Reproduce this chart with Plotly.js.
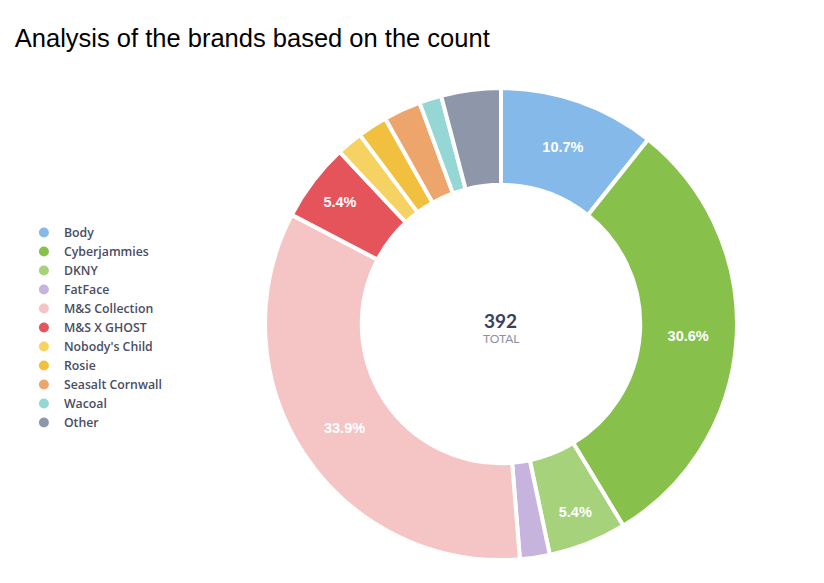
<!DOCTYPE html>
<html>
<head>
<meta charset="utf-8">
<script src="https://cdn.plot.ly/plotly-3.0.1.min.js"></script>
<style>
  html, body { margin: 0; padding: 0; background: #fff; }
  #chart { width: 824px; height: 583px; }
</style>
</head>
<body>
<div id="chart"></div>
<script>
// Brand counts (total 392)
const brands = ['Body', 'Cyberjammies', 'DKNY', 'FatFace', 'M&S Collection', 'M&S X GHOST',
    "Nobody's Child", 'Rosie', 'Seasalt Cornwall', 'Wacoal', 'Other'];
const counts = [42, 120, 21, 8, 133, 21, 7, 8, 10, 6, 16];
const colors = ['#85b9e9', '#88c04c', '#a6d27c', '#c6b4de', '#f5c5c6', '#e4545a',
    '#f6d262', '#f2c03f', '#eea56c', '#95d7d4', '#8e96a9'];

const total = counts.reduce((a, b) => a + b, 0);
// only label the bigger slices
const labelTemplates = counts.map(v => v / total >= 0.05 ? '%{percent:.1%}' : '');

const donut = {
    type: 'pie',
    labels: brands,
    values: counts,
    sort: false,
    direction: 'clockwise',
    rotation: 0,
    hole: 0.59,
    marker: {colors: colors, line: {color: '#ffffff', width: 4}},
    texttemplate: labelTemplates,
    textposition: 'inside',
    insidetextorientation: 'horizontal',
    insidetextfont: {color: '#ffffff', size: 14.5, family: 'Liberation Sans, Arial, sans-serif', weight: 'bold'},
    domain: {x: [0.3216, 0.8944], y: [0.0395, 0.849]},
    showlegend: false,
    hoverinfo: 'label+value+percent'
};

// legend entries with round markers
const legendTraces = brands.map((b, i) => ({
    type: 'scatter',
    mode: 'markers',
    x: [null],
    y: [null],
    name: b,
    marker: {color: colors[i], size: 10, symbol: 'circle'},
    showlegend: true,
    hoverinfo: 'skip'
}));

const layout = {
    width: 824,
    height: 583,
    margin: {t: 0, l: 0, r: 0, b: 0},
    paper_bgcolor: '#ffffff',
    plot_bgcolor: '#ffffff',
    xaxis: {visible: false, domain: [0, 0.01]},
    yaxis: {visible: false, domain: [0, 0.01]},
    title: {
        text: 'Analysis of the brands based on the count',
        x: 0.018, xanchor: 'left',
        y: 0.935, yanchor: 'middle',
        font: {family: 'Liberation Sans, Arial, sans-serif', size: 25.5, color: '#000000'}
    },
    legend: {
        x: 0.029, xanchor: 'left',
        y: 0.626, yanchor: 'top',
        font: {family: 'Open Sans, sans-serif', size: 12.3, color: '#4a4d62', weight: 600},
        itemwidth: 30,
        tracegroupgap: 0,
        bgcolor: 'rgba(0,0,0,0)'
    },
    annotations: [
        {
            text: String(total), x: 0.608, y: 0.451, xref: 'paper', yref: 'paper',
            showarrow: false, font: {family: 'Lato, sans-serif', size: 19, color: '#3d405c', weight: 'bold'}
        },
        {
            text: 'TOTAL', x: 0.608, y: 0.420, xref: 'paper', yref: 'paper',
            showarrow: false, font: {family: 'Lato, sans-serif', size: 12, color: '#8d91a3'}
        }
    ]
};

Plotly.newPlot('chart', [donut].concat(legendTraces), layout, {staticPlot: true, displayModeBar: false});
</script>
</body>
</html>
